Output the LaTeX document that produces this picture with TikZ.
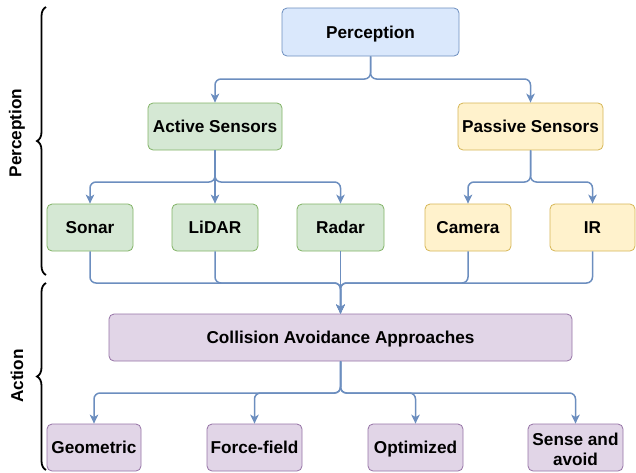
\documentclass[tikz,border=0pt]{standalone}
\usepackage{fontspec}
\setmainfont{Liberation Sans}
\usetikzlibrary{arrows.meta,decorations.pathreplacing,calc}
\definecolor{bluefill}{HTML}{DAE8FC}\definecolor{bluedraw}{HTML}{6C8EBF}
\definecolor{greenfill}{HTML}{D5E8D4}\definecolor{greendraw}{HTML}{82B366}
\definecolor{yellowfill}{HTML}{FFF2CC}\definecolor{yellowdraw}{HTML}{D6B656}
\definecolor{purplefill}{HTML}{E1D5E7}\definecolor{purpledraw}{HTML}{9673A6}
\tikzset{
  box/.style={draw, rounded corners=5pt, line width=0.8pt, minimum height=47pt, inner sep=2pt,
    text height=12pt, text depth=0pt,
    font=\fontsize{17.2}{19.5}\selectfont\bfseries, align=center, text=black},
  bluebox/.style={box, fill=bluefill, draw=bluedraw},
  greenbox/.style={box, fill=greenfill, draw=greendraw},
  yellowbox/.style={box, fill=yellowfill, draw=yellowdraw},
  purplebox/.style={box, fill=purplefill, draw=purpledraw},
  conn/.style={draw=bluedraw, line width=1.5pt, rounded corners=6pt,
    -{Stealth[length=9pt,width=8.5pt,inset=2.5pt]}},
  bracestyle/.style={draw=black, line width=1.8pt, decorate,
    decoration={brace, amplitude=9pt}},
  sidelabel/.style={rotate=90, font=\fontsize{17.2}{19.5}\selectfont\bfseries, text=black}
}
\begin{document}
\begin{tikzpicture}[x=1pt,y=-1pt]
\useasboundingbox (0,0) rectangle (636,472);
% nodes
\node[bluebox, minimum width=177pt, minimum height=48pt] (perc) at (370.5,32) {Perception};
\node[greenbox, minimum width=134pt] (act) at (215,126.5) {Active Sensors};
\node[yellowbox, minimum width=145pt] (pas) at (530.5,126.5) {Passive Sensors};
\node[greenbox, minimum width=86pt] (sonar) at (90,227.5) {Sonar};
\node[greenbox, minimum width=86pt] (lidar) at (215,227.5) {LiDAR};
\node[greenbox, minimum width=87pt] (radar) at (340.5,227.5) {Radar};
\node[yellowbox, minimum width=86pt] (camera) at (468,227.5) {Camera};
\node[yellowbox, minimum width=85pt] (ir) at (592.5,227.5) {IR};
\node[purplebox, minimum width=463pt] (cap) at (340.5,337.5) {Collision Avoidance Approaches};
\node[purplebox, minimum width=94pt] (geo) at (94,447.5) {Geometric};
\node[purplebox, minimum width=95pt] (ff) at (254.5,447.5) {Force-field};
\node[purplebox, minimum width=95pt] (opt) at (415.5,447.5) {Optimized};
\node[purplebox, minimum width=95pt, text height=35.5pt] (saa) at (575.5,447.5) {Sense and\\avoid};
% junction coordinates
\coordinate (j1) at (370.5,79);
\coordinate (j2) at (215,182);
\coordinate (j3) at (530.5,182);
\coordinate (jm) at (340.5,283);
\coordinate (j4) at (340.5,393);
% connectors
\draw[conn] (perc.south) -- (j1) -| (act.north);
\draw[conn] (perc.south) -- (j1) -| (pas.north);
\draw[conn] (act.south) -- (j2) -| (sonar.north);
\draw[conn] (act.south) -- (lidar.north);
\draw[conn] (act.south) -- (j2) -| (radar.north);
\draw[conn] (pas.south) -- (j3) -| (camera.north);
\draw[conn] (pas.south) -- (j3) -| (ir.north);
\draw[conn] (sonar.south) |- (jm) -- (cap.north);
\draw[conn] (lidar.south) |- (jm) -- (cap.north);
\draw[conn] (radar.south) -- (cap.north);
\draw[conn] (camera.south) |- (jm) -- (cap.north);
\draw[conn] (ir.south) |- (jm) -- (cap.north);
\draw[conn] (cap.south) -- (j4) -| (geo.north);
\draw[conn] (cap.south) -- (j4) -| (ff.north);
\draw[conn] (cap.south) -- (j4) -| (opt.north);
\draw[conn] (cap.south) -- (j4) -| (saa.north);
% braces
\coordinate (pb1) at (46,275);
\coordinate (pb2) at (46,7);
\coordinate (ab1) at (46,470);
\coordinate (ab2) at (46,283);
\draw[bracestyle] (pb1) -- (pb2);
\draw[bracestyle] (ab1) -- (ab2);
\node[sidelabel] (lperc) at (17,133) {Perception};
\node[sidelabel] (lact) at (17,376) {Action};
\end{tikzpicture}
\end{document}
